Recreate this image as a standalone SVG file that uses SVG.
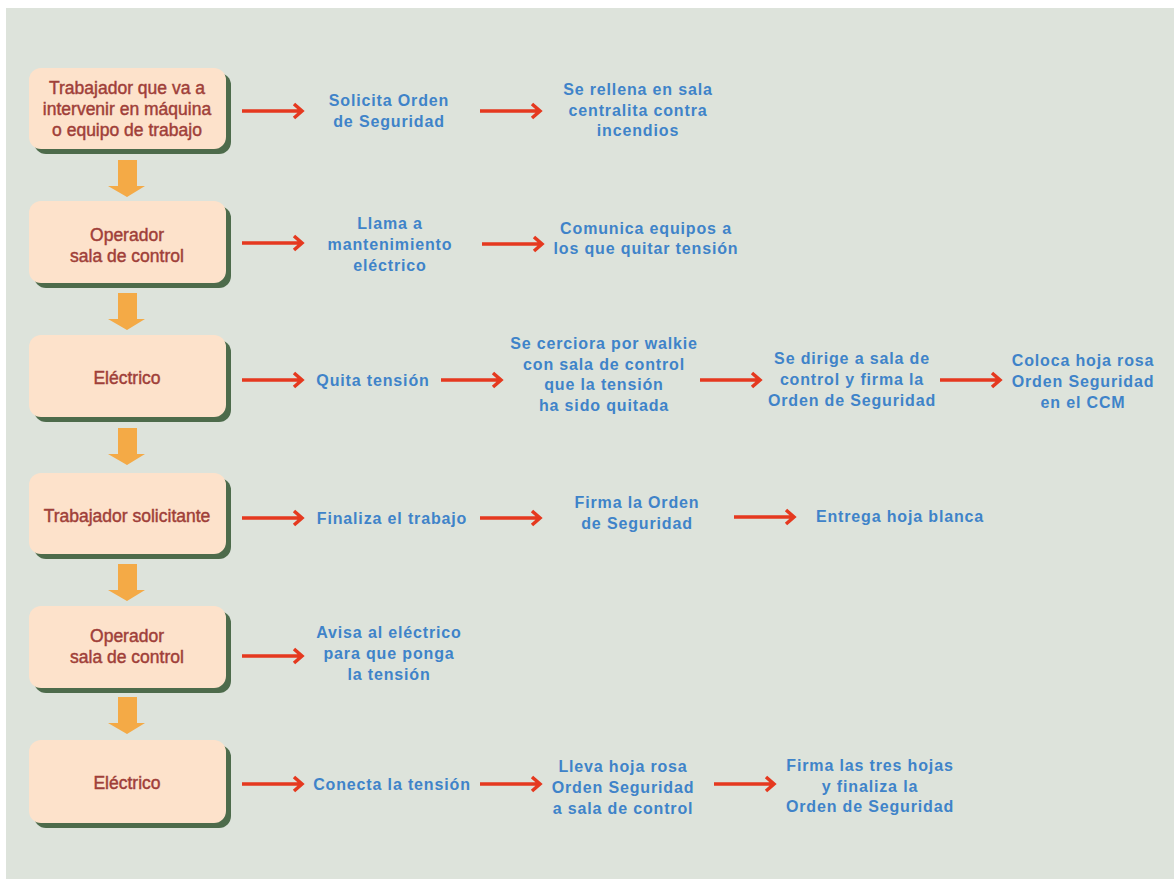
<svg xmlns="http://www.w3.org/2000/svg" width="1174" height="879" viewBox="0 0 1174 879">
<defs>
<style>
.bx{fill:#fde2cb}
.sh{fill:#4d6b4b}
.nt{font-family:"Liberation Sans",Arial,sans-serif;font-size:17.5px;fill:#a03f39;stroke:#a03f39;stroke-width:0.45px;text-anchor:middle}
.bt{font-family:"Liberation Sans",Arial,sans-serif;font-size:16px;font-weight:bold;fill:#3f83c9;text-anchor:middle;letter-spacing:0.85px}
.ra{fill:none;stroke:#e5391f;stroke-width:3.5;stroke-linejoin:miter}
.oa{fill:#f4aa46}
</style>
</defs>
<rect x="0" y="0" width="1174" height="879" fill="#ffffff"/>
<rect x="6" y="8" width="1168" height="871" fill="#dde3db"/>

<g id="n1">
<rect class="sh" x="34" y="73" width="197" height="81" rx="12"/>
<rect class="bx" x="29" y="68" width="197" height="81" rx="12"/>
<text class="nt" x="127" y="94">Trabajador que va a</text>
<text class="nt" x="127" y="115">intervenir en máquina</text>
<text class="nt" x="127" y="136">o equipo de trabajo</text>
</g>
<g id="n2">
<rect class="sh" x="34" y="206" width="197" height="82" rx="12"/>
<rect class="bx" x="29" y="201" width="197" height="82" rx="12"/>
<text class="nt" x="127" y="241">Operador</text>
<text class="nt" x="127" y="262">sala de control</text>
</g>
<g id="n3">
<rect class="sh" x="34" y="340" width="197" height="82" rx="12"/>
<rect class="bx" x="29" y="335" width="197" height="82" rx="12"/>
<text class="nt" x="127" y="384">Eléctrico</text>
</g>
<g id="n4">
<rect class="sh" x="34" y="478" width="197" height="81" rx="12"/>
<rect class="bx" x="29" y="473" width="197" height="81" rx="12"/>
<text class="nt" x="127" y="522">Trabajador solicitante</text>
</g>
<g id="n5">
<rect class="sh" x="34" y="611" width="197" height="82" rx="12"/>
<rect class="bx" x="29" y="606" width="197" height="82" rx="12"/>
<text class="nt" x="127" y="642">Operador</text>
<text class="nt" x="127" y="663">sala de control</text>
</g>
<g id="n6">
<rect class="sh" x="34" y="745" width="197" height="83" rx="12"/>
<rect class="bx" x="29" y="740" width="197" height="83" rx="12"/>
<text class="nt" x="127" y="789">Eléctrico</text>
</g>

<g id="texts">
<text class="bt" x="389" y="106">Solicita Orden</text>
<text class="bt" x="389" y="127">de Seguridad</text>
<text class="bt" x="638" y="95">Se rellena en sala</text>
<text class="bt" x="638" y="116">centralita contra</text>
<text class="bt" x="638" y="136">incendios</text>

<text class="bt" x="390" y="229">Llama a</text>
<text class="bt" x="390" y="250">mantenimiento</text>
<text class="bt" x="390" y="271">eléctrico</text>
<text class="bt" x="646" y="234">Comunica equipos a</text>
<text class="bt" x="646" y="254">los que quitar tensión</text>

<text class="bt" x="373" y="386">Quita tensión</text>
<text class="bt" x="604" y="349">Se cerciora por walkie</text>
<text class="bt" x="604" y="370">con sala de control</text>
<text class="bt" x="604" y="390">que la tensión</text>
<text class="bt" x="604" y="411">ha sido quitada</text>
<text class="bt" x="852" y="364">Se dirige a sala de</text>
<text class="bt" x="852" y="385">control y firma la</text>
<text class="bt" x="852" y="406">Orden de Seguridad</text>
<text class="bt" x="1083" y="366">Coloca hoja rosa</text>
<text class="bt" x="1083" y="387">Orden Seguridad</text>
<text class="bt" x="1083" y="408">en el CCM</text>

<text class="bt" x="392" y="524">Finaliza el trabajo</text>
<text class="bt" x="637" y="508">Firma la Orden</text>
<text class="bt" x="637" y="529">de Seguridad</text>
<text class="bt" x="900" y="522">Entrega hoja blanca</text>

<text class="bt" x="389" y="638">Avisa al eléctrico</text>
<text class="bt" x="389" y="659">para que ponga</text>
<text class="bt" x="389" y="680">la tensión</text>

<text class="bt" x="392" y="790">Conecta la tensión</text>
<text class="bt" x="623" y="772">Lleva hoja rosa</text>
<text class="bt" x="623" y="793">Orden Seguridad</text>
<text class="bt" x="623" y="814">a sala de control</text>
<text class="bt" x="870" y="771">Firma las tres hojas</text>
<text class="bt" x="870" y="792">y finaliza la</text>
<text class="bt" x="870" y="812">Orden de Seguridad</text>
</g>

<g id="connectors">
<path class="oa" d="M118 160H137V186H145L127 197L108 186H118Z"/>
<path class="oa" d="M118 293H137V319H145L127 330L108 319H118Z"/>
<path class="oa" d="M118 428H137V454H145L127 465L108 454H118Z"/>
<path class="oa" d="M118 564H137V590H145L127 601L108 590H118Z"/>
<path class="oa" d="M118 697H137V723H145L127 734L108 723H118Z"/>

<path class="ra" d="M242 111H301M294 104L302 111L294 118"/>
<path class="ra" d="M480 111H539M532 104L540 111L532 118"/>
<path class="ra" d="M242 243H301M294 236L302 243L294 250"/>
<path class="ra" d="M482 244H541M534 237L542 244L534 251"/>
<path class="ra" d="M242 380H301M294 373L302 380L294 387"/>
<path class="ra" d="M441 380H500M493 373L501 380L493 387"/>
<path class="ra" d="M700 380H759M752 373L760 380L752 387"/>
<path class="ra" d="M940 380H999M992 373L1000 380L992 387"/>
<path class="ra" d="M242 518H301M294 511L302 518L294 525"/>
<path class="ra" d="M480 518H539M532 511L540 518L532 525"/>
<path class="ra" d="M734 517H793M786 510L794 517L786 524"/>
<path class="ra" d="M242 656H301M294 649L302 656L294 663"/>
<path class="ra" d="M242 784H301M294 777L302 784L294 791"/>
<path class="ra" d="M480 784H539M532 777L540 784L532 791"/>
<path class="ra" d="M714 784H773M766 777L774 784L766 791"/>
</g>
</svg>
